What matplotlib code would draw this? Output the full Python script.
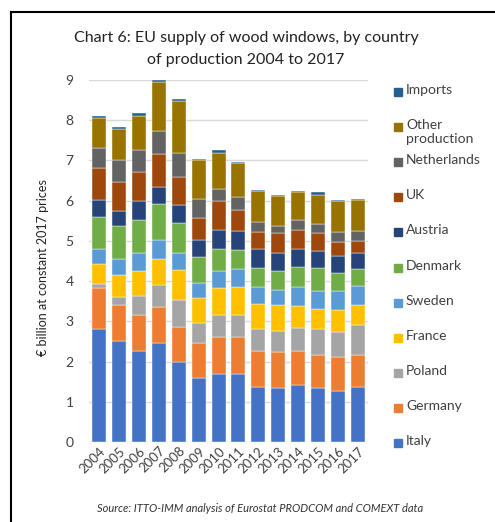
import matplotlib
matplotlib.use("Agg")
import matplotlib.pyplot as plt
import numpy as np
from matplotlib.patches import Rectangle

plt.rcParams['font.family'] = ['Lato', 'DejaVu Sans']

years = [str(y) for y in range(2004, 2018)]

# segment values, EUR billion at constant 2017 prices (stacked bottom to top)
italy = [2.81, 2.52, 2.27, 2.46, 1.98, 1.59, 1.70, 1.70, 1.37, 1.34, 1.41, 1.34, 1.27, 1.37]
germany = [1.01, 0.88, 0.88, 0.89, 0.87, 0.87, 0.91, 0.91, 0.90, 0.89, 0.86, 0.83, 0.84, 0.80]
poland = [0.10, 0.20, 0.48, 0.56, 0.68, 0.50, 0.54, 0.54, 0.53, 0.53, 0.57, 0.64, 0.63, 0.73]
france = [0.50, 0.54, 0.61, 0.64, 0.74, 0.63, 0.67, 0.70, 0.64, 0.64, 0.53, 0.50, 0.55, 0.51]
sweden = [0.38, 0.40, 0.45, 0.48, 0.42, 0.36, 0.42, 0.45, 0.41, 0.39, 0.48, 0.45, 0.47, 0.48]
denmark = [0.80, 0.82, 0.84, 0.89, 0.75, 0.64, 0.56, 0.47, 0.47, 0.47, 0.51, 0.57, 0.45, 0.41]
austria = [0.42, 0.39, 0.46, 0.41, 0.45, 0.44, 0.48, 0.48, 0.48, 0.45, 0.44, 0.41, 0.41, 0.41]
uk = [0.78, 0.72, 0.73, 0.83, 0.70, 0.55, 0.71, 0.51, 0.42, 0.48, 0.48, 0.45, 0.35, 0.28]
netherlands = [0.52, 0.54, 0.54, 0.57, 0.60, 0.46, 0.31, 0.32, 0.25, 0.19, 0.23, 0.22, 0.25, 0.26]
other = [0.73, 0.76, 0.85, 1.21, 1.29, 0.96, 0.89, 0.86, 0.77, 0.74, 0.70, 0.73, 0.77, 0.77]
imports = [0.06, 0.05, 0.06, 0.06, 0.04, 0.03, 0.06, 0.03, 0.03, 0.02, 0.03, 0.07, 0.03, 0.03]

series = [
    ("Italy", italy, "#4472C4"),
    ("Germany", germany, "#ED7D31"),
    ("Poland", poland, "#A5A5A5"),
    ("France", france, "#FFC000"),
    ("Sweden", sweden, "#5B9BD5"),
    ("Denmark", denmark, "#70AD47"),
    ("Austria", austria, "#264478"),
    ("UK", uk, "#9E480E"),
    ("Netherlands", netherlands, "#636363"),
    ("Other\nproduction", other, "#997300"),
    ("Imports", imports, "#255E91"),
]

W, H = 495, 522
fig = plt.figure(figsize=(W / 100, H / 100), dpi=100)

def fx(px):
    return px / W

def fy(py):
    return 1 - py / H

ax = fig.add_axes([fx(89), fy(442), fx(368) - fx(89), fy(80) - fy(442)])

x = np.arange(len(years))
bottom = np.zeros(len(years))
for name, vals, color in series:
    ax.bar(x, vals, 0.7, bottom=bottom, color=color, edgecolor="white", linewidth=0.3, zorder=3)
    bottom += np.array(vals)

ax.set_xlim(-0.5, len(years) - 0.5)
ax.set_ylim(0, 9)
ax.set_yticks(range(0, 10))
ax.yaxis.grid(True, color="#D9D9D9", linewidth=1, zorder=0)
for s in ax.spines.values():
    s.set_visible(False)
ax.tick_params(axis="y", length=0, labelsize=10, colors="#404040", pad=11)
ax.tick_params(axis="x", length=0, labelsize=9.5, colors="#404040", pad=2)
ax.set_xticks(x)
ax.set_xticklabels(years, rotation=45, ha="right", rotation_mode="anchor")

fig.text(fx(43), fy(268), "€ billion at constant 2017 prices", rotation=90,
         ha="center", va="center", fontsize=9, color="#222222")

fig.text(fx(246), fy(38), "Chart 6: EU supply of wood windows, by country",
         ha="center", va="center", fontsize=11.5, color="#222222")
fig.text(fx(246), fy(60), "of production 2004 to 2017",
         ha="center", va="center", fontsize=11.5, color="#222222")

fig.text(fx(260), fy(508), "Source: ITTO-IMM analysis of Eurostat PRODCOM and COMEXT data",
         ha="center", va="center", fontsize=8, style="italic", color="#333333")

# legend, top entry is the last series
for i, (name, vals, color) in enumerate(reversed(series)):
    y = 92 + i * 35.1
    fig.patches.append(Rectangle((fx(394), fy(y + 4)), fx(8), fy(y - 4) - fy(y + 4),
                                 transform=fig.transFigure, color=color))
    fig.text(fx(406), fy(y - 8), name, ha="left", va="top", fontsize=10,
             color="#404040", linespacing=1.15)

# frame lines along the top and left edges
fig.add_artist(plt.Line2D([fx(11), 1], [fy(12), fy(12)], color="black", linewidth=1.5,
                          transform=fig.transFigure))
fig.add_artist(plt.Line2D([fx(11), fx(11)], [fy(12), 0], color="black", linewidth=1.5,
                          transform=fig.transFigure))

fig.savefig("out.png", dpi=100)
